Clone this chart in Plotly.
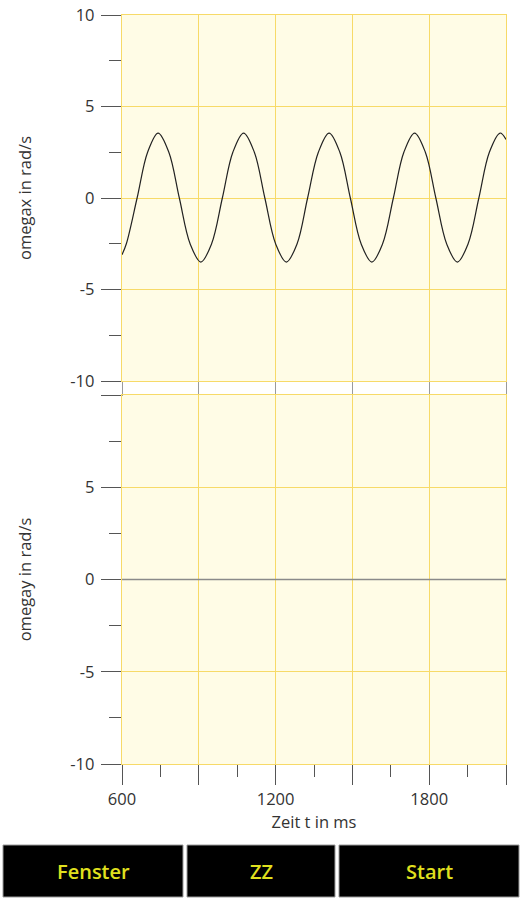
import plotly.graph_objects as go

# --- data ---
t_x = [600, 617, 659, 700, 741, 783, 824, 866, 908, 950, 992, 1033, 1075, 1117,
       1158, 1200, 1242, 1284, 1325, 1367, 1409, 1451, 1492, 1534, 1576, 1618,
       1660, 1701, 1743, 1785, 1826, 1868, 1910, 1952, 1994, 2035, 2077, 2100]
omegax = [-3.1, -2.5, 0, 2.5, 3.55, 2.5, 0, -2.5, -3.5, -2.5, 0, 2.5, 3.55, 2.5,
          0, -2.5, -3.5, -2.5, 0, 2.5, 3.55, 2.5, 0, -2.5, -3.5, -2.5,
          0, 2.5, 3.55, 2.5, 0, -2.5, -3.5, -2.5, 0, 2.5, 3.55, 3.2]
t_y = [600, 2100]
omegay = [0, 0]

x_tickvals = [600, 900, 1200, 1500, 1800, 2100]
x_ticktext = ["600", "", "1200", "", "1800", ""]
y_tickvals = [-10, -5, 0, 5, 10]
y_ticktext_top = ["-10", "-5", "0", "5", "10"]
y_ticktext_bottom = ["-10", "-5", "0", "5", ""]
buttons = ["Fenster", "ZZ", "Start"]

W, H = 522, 900
GRID = "#F7DA68"
BG = "#FFFCE6"
TICK = "#555555"
TXT = "#333333"
FONT = "Open Sans"
TITLE_SIZE = 16.5


def px_x(p):
    return p / W


def px_y(p):
    return 1 - p / H


fig = go.Figure()
fig.add_trace(go.Scatter(x=t_x, y=omegax, mode="lines", line=dict(color="#222222", width=1.2, shape="spline"),
                         xaxis="x", yaxis="y", showlegend=False, hoverinfo="skip"))
fig.add_trace(go.Scatter(x=t_y, y=omegay, mode="lines", line=dict(color="#8a8a8a", width=1.6),
                         xaxis="x2", yaxis="y2", showlegend=False, hoverinfo="skip"))

xdom = [px_x(122), px_x(506)]
common_x = dict(range=[600, 2100], domain=xdom, showgrid=True, gridcolor=GRID, gridwidth=1.4,
                zeroline=False, showline=True, linecolor=GRID, linewidth=1.4, mirror=True,
                tickvals=x_tickvals, ticks="outside", tickcolor=TICK, fixedrange=True, automargin=False)

common_y = dict(range=[-10, 10], tickvals=y_tickvals, ticks="outside", ticklen=20, tickwidth=1.2,
                tickcolor=TICK, ticklabelstandoff=3,
                minor=dict(dtick=2.5, tick0=0, ticks="outside", ticklen=12, tickcolor=TICK, showgrid=False),
                showgrid=True, gridcolor=GRID, gridwidth=1.4, zeroline=False,
                showline=True, linecolor=GRID, linewidth=1.4, mirror=True, fixedrange=True,
                automargin=False)

fig.update_layout(
    width=W, height=H,
    margin=dict(l=0, r=0, t=0, b=0),
    paper_bgcolor="white", plot_bgcolor=BG,
    font=dict(family=FONT, color=TXT, size=16.5),
    xaxis=dict(common_x, anchor="y", showticklabels=False, ticklen=14, tickcolor="#9a9a9a", tickwidth=1.2),
    xaxis2=dict(common_x, anchor="y2", ticktext=x_ticktext, ticklen=20, tickwidth=1.2,
                ticklabelstandoff=0,
                minor=dict(dtick=150, tick0=600, ticks="outside", ticklen=12, tickcolor=TICK, showgrid=False),
                title=dict(text="Zeit t in ms", font=dict(size=TITLE_SIZE, color=TXT), standoff=0)),
    yaxis=dict(common_y, domain=[px_y(381), px_y(15)], anchor="x", ticktext=y_ticktext_top,
               title=dict(text="omegax in rad/s", font=dict(size=TITLE_SIZE, color=TXT), standoff=34)),
    yaxis2=dict(common_y, domain=[px_y(764), px_y(395)], anchor="x2", ticktext=y_ticktext_bottom,
                title=dict(text="omegay in rad/s", font=dict(size=TITLE_SIZE, color=TXT), standoff=34)),
)

# buttons at the bottom
btn_boxes = [(3, 183), (187, 335), (339, 519)]
for (x0, x1), label in zip(btn_boxes, buttons):
    fig.add_shape(type="rect", xref="paper", yref="paper",
                  x0=px_x(x0), x1=px_x(x1), y0=px_y(897), y1=px_y(845),
                  fillcolor="black", line=dict(color="#9a9a9a", width=1))
    fig.add_annotation(xref="paper", yref="paper", x=px_x((x0 + x1) / 2), y=px_y(871),
                       text=label, showarrow=False, xanchor="center", yanchor="middle",
                       font=dict(family="Open Sans", size=20, weight=600, color="#E0E01E"))

fig.write_html("out.html", config={"displayModeBar": False},
               post_script="document.body.style.margin='0';document.body.style.overflow='hidden';")
